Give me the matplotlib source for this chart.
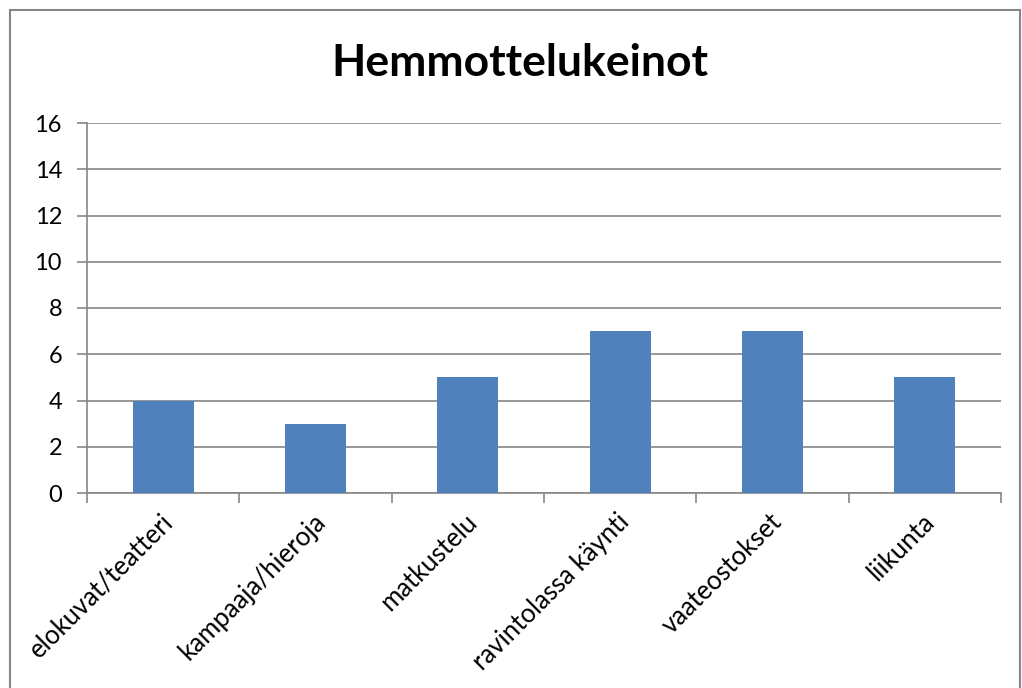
import matplotlib

matplotlib.use("Agg")
import matplotlib.pyplot as plt
from matplotlib.patches import Rectangle

categories = [
    "elokuvat/teatteri",
    "kampaaja/hieroja",
    "matkustelu",
    "ravintolassa käynti",
    "vaateostokset",
    "liikunta",
]
values = [4, 3, 5, 7, 7, 5]
title = "Hemmottelukeinot"

BAR_COLOR = "#4F81BD"
GRID_COLOR = "#868686"
FONT = ["Lato", "DejaVu Sans"]

plt.rcParams["font.family"] = FONT

fig = plt.figure(figsize=(10.22, 6.88), dpi=100)
fig.patch.set_facecolor("white")

# chart frame (bottom edge lies off the picture)
fig.add_artist(
    Rectangle(
        (10 / 1022, -10 / 688), 1010 / 1022, 688 / 688,
        transform=fig.transFigure, fill=False, ec=GRID_COLOR, lw=1.5,
    )
)

ax = fig.add_axes([87 / 1022, 195 / 688, 914 / 1022, 370 / 688])
x = list(range(len(categories)))
ax.bar(x, values, width=0.4, color=BAR_COLOR, zorder=3)

ax.set_xlim(-0.5, len(categories) - 0.5)
ax.set_ylim(0, 16)
ax.set_yticks(range(0, 17, 2))
ax.tick_params(axis="y", length=7, width=1.2, color=GRID_COLOR, labelsize=17, pad=11)
ax.grid(axis="y", color=GRID_COLOR, lw=1.2, zorder=0)
ax.set_axisbelow(True)

for side in ["top", "right"]:
    ax.spines[side].set_visible(False)
for side in ["left", "bottom"]:
    ax.spines[side].set_color(GRID_COLOR)
    ax.spines[side].set_linewidth(1.2)

# category boundary ticks on x axis
ax.set_xticks([i - 0.5 for i in range(len(categories) + 1)])
ax.set_xticklabels([])
ax.tick_params(axis="x", length=7, width=1.2, color=GRID_COLOR, direction="out")

for i, label in enumerate(categories):
    ax.annotate(
        label, xy=(i, 0), xycoords=("data", "axes fraction"),
        xytext=(4, -18), textcoords="offset points",
        rotation=45, rotation_mode="anchor", ha="right", va="center",
        fontsize=18.5,
    )

fig.text(520 / 1022, 1 - 63 / 688, title, ha="center", va="center",
         fontsize=32, fontweight="bold")

fig.savefig("out.png", dpi=100)
